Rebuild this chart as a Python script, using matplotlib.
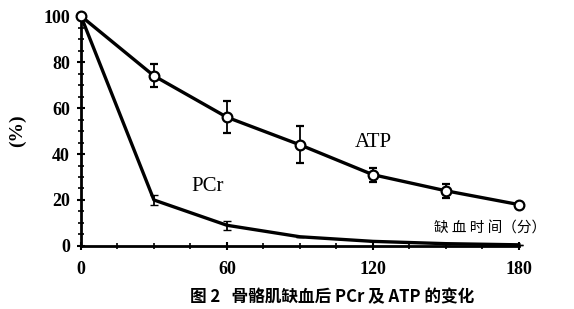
import matplotlib
matplotlib.use("Agg")
import matplotlib.pyplot as plt
from matplotlib.ticker import MultipleLocator

time = [0, 30, 60, 90, 120, 150, 180]
atp = [100, 74, 56, 44, 31, 24, 18]
atp_err = [0, 5, 7, 8, 3, 3, 0]
pcr = [100, 20, 9, 4, 2, 1, 0.5]
pcr_err = [0, 2, 2, 0, 0, 0, 0]
xticks = [0, 60, 120, 180]
yticks = [0, 20, 40, 60, 80, 100]

plt.rcParams['font.family'] = ['Liberation Serif', 'Noto Sans CJK SC']
fig = plt.figure(figsize=(5.74, 3.09), dpi=100)
ax = fig.add_axes([0.141, 0.204, 0.763, 0.744])

ax.errorbar(time, atp, yerr=atp_err, color='black', lw=2.4, marker='o', ms=7,
            mfc='white', mec='black', mew=1.6, capsize=3, elinewidth=1.3, clip_on=False, zorder=3)
ax.errorbar(time, pcr, yerr=pcr_err, color='black', lw=2.4, capsize=3, elinewidth=1.3,
            clip_on=False, zorder=2)

ax.set_xlim(0, 180)
ax.set_ylim(0, 100)
ax.set_xticks(xticks)
ax.set_yticks(yticks)
ax.xaxis.set_minor_locator(MultipleLocator(15))
ax.yaxis.set_minor_locator(MultipleLocator(5))
for s in ['top', 'right']:
    ax.spines[s].set_visible(False)
ax.spines['left'].set_linewidth(2)
ax.spines['bottom'].set_linewidth(2)
ax.tick_params(which='major', direction='inout', length=6, width=1.5, labelsize=13)
ax.tick_params(which='minor', direction='inout', length=4, width=1.2)
for lab in ax.get_xticklabels() + ax.get_yticklabels():
    lab.set_fontweight('bold')
ax.tick_params(axis='x', pad=8)
ax.tick_params(axis='y', pad=5)

ax.set_ylabel('(%)', fontsize=14, fontweight='bold', labelpad=12)
ax.text(120, 45, 'ATP', fontsize=15, ha='center', va='center')
ax.text(52, 26, 'PCr', fontsize=15, ha='center', va='center')
ax.text(168, 7.5, '缺 血 时 间（分）', fontsize=10.5, ha='center', va='center',
        family=['Noto Sans CJK SC', 'DejaVu Sans'])
fig.text(0.578, 0.04, '图 2   骨骼肌缺血后 PCr 及 ATP 的变化', fontsize=12, fontweight='bold',
         ha='center', va='center', family=['Noto Sans CJK SC', 'DejaVu Sans'])

fig.savefig('out.png', dpi=100)
